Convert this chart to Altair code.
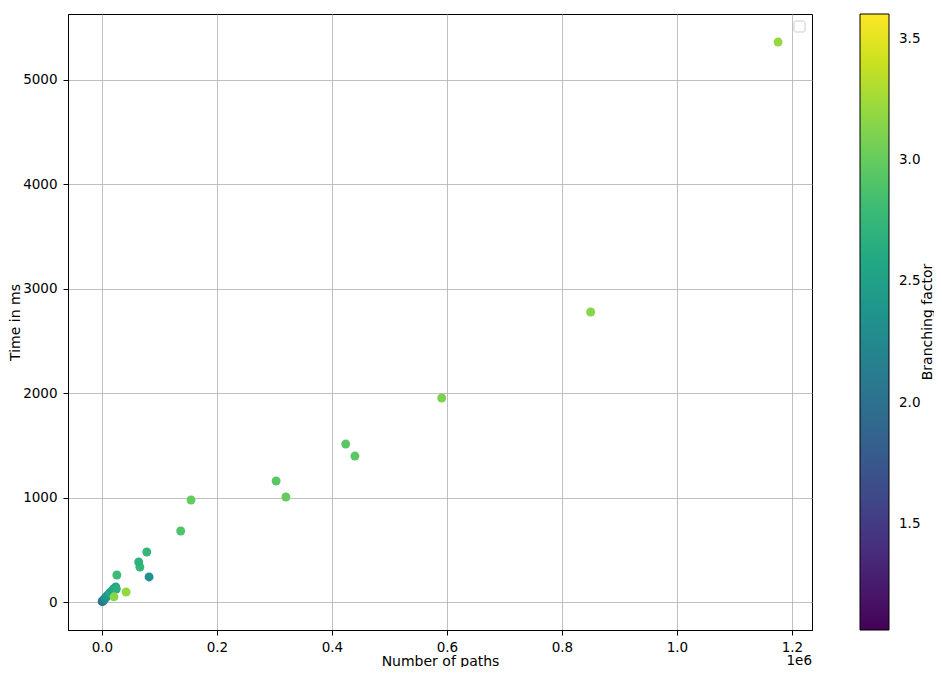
import altair as alt
import pandas as pd

paths = [500, 1500, 2500, 4000, 5500, 7000, 8500, 10000, 13000, 15000, 17000, 20000,
         24000, 25000, 21000, 42000, 26000, 82000, 66000, 64000, 78000, 137000, 155000,
         303000, 320000, 424000, 440000, 591000, 850000, 1176000]
time_ms = [5, 10, 15, 25, 35, 45, 55, 65, 85, 95, 105, 125,
           145, 125, 50, 96, 259, 240, 335, 383, 479, 680, 977,
           1159, 1006, 1513, 1398, 1954, 2778, 5364]
branching = [1.9, 2.0, 2.1, 2.2, 2.3, 2.3, 2.4, 2.4, 2.5, 2.6, 2.5, 2.6,
             2.55, 2.65, 3.15, 3.2, 2.8, 2.35, 2.75, 2.7, 2.75, 2.9, 3.0,
             2.95, 3.0, 2.95, 2.95, 3.1, 3.15, 3.2]

df = pd.DataFrame({"paths": paths, "time": time_ms, "bf": branching})

W, H = 744, 616
FONT = "DejaVu Sans"
LFS = 13.5
TFS = 14

points = alt.Chart(df).mark_circle(size=80, opacity=1).encode(
    x=alt.X("paths:Q",
            scale=alt.Scale(domain=[-59000, 1235000], nice=False, zero=False),
            axis=alt.Axis(title="Number of paths",
                          values=[0, 200000, 400000, 600000, 800000, 1000000, 1200000],
                          labelExpr="format(datum.value / 1000000, '.1f')",
                          labelPadding=5,
                          titleBaseline="alphabetic", titleY=35)),
    y=alt.Y("time:Q",
            scale=alt.Scale(domain=[-268, 5632], nice=False, zero=False),
            axis=alt.Axis(title="Time in ms",
                          values=[0, 1000, 2000, 3000, 4000, 5000],
                          format="d", labelPadding=6,
                          titleBaseline="alphabetic", titleX=-49, titleY=H / 2,
                          titleAngle=270, titleAlign="center")),
    color=alt.Color("bf:Q",
                    scale=alt.Scale(scheme="viridis", domain=[1.063, 3.603], nice=False, zero=False),
                    legend=alt.Legend(title=None,
                                      values=[1.5, 2.0, 2.5, 3.0, 3.5],
                                      format=".1f",
                                      orient="right",
                                      offset=48,
                                      padding=0,
                                      gradientLength=616,
                                      gradientThickness=29,
                                      gradientStrokeColor="black",
                                      gradientStrokeWidth=1,
                                      labelFontSize=LFS,
                                      labelFont=FONT,
                                      labelColor="black",
                                      labelOffset=10)),
)

offset_text = alt.Chart(pd.DataFrame({"t": ["1e6"]})).mark_text(
    align="right", baseline="alphabetic", fontSize=LFS, font=FONT, color="black"
).encode(text="t:N", x=alt.value(W), y=alt.value(H + 35))

cbar_title = alt.Chart(pd.DataFrame({"t": ["Branching factor"]})).mark_text(
    align="center", baseline="alphabetic", fontSize=TFS, font=FONT, color="black", angle=270
).encode(text="t:N", x=alt.value(864), y=alt.value(H / 2))

legend_box = alt.Chart(pd.DataFrame({"t": [""]})).mark_rect(
    fill="white", stroke="#cccccc", strokeWidth=1, cornerRadius=2
).encode(x=alt.value(726), x2=alt.value(737), y=alt.value(7), y2=alt.value(18))

chart = alt.layer(points, offset_text, cbar_title, legend_box).properties(
    width=W, height=H,
    autosize=alt.AutoSizeParams(type="none"),
    padding={"left": 60, "top": 6, "right": 122, "bottom": 37},
).configure_view(
    stroke="black", strokeWidth=1
).configure_axis(
    labelFont=FONT, titleFont=FONT, labelFontSize=LFS, titleFontSize=TFS,
    titleFontWeight="normal", labelColor="black", titleColor="black",
    domainColor="black", tickColor="black", tickSize=5, tickWidth=1,
    gridColor="#b0b0b0", gridWidth=0.8, grid=True,
)

chart.save("out.html", embed_options={"renderer": "svg", "actions": False})
